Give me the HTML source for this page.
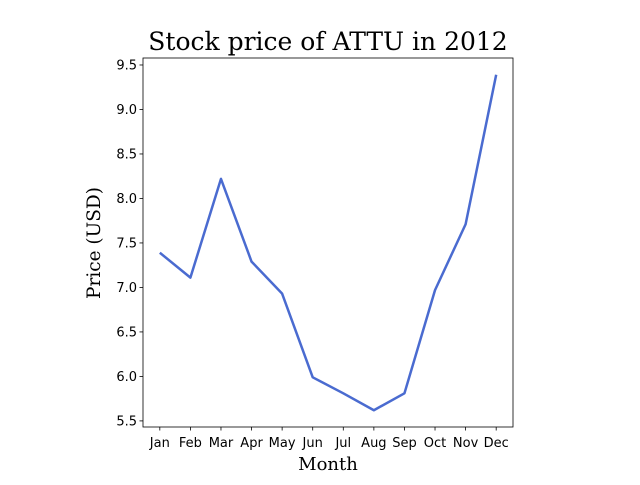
<!DOCTYPE html>
<html><head><meta charset="utf-8"><style>
body{margin:0;background:#fff;width:640px;height:480px;overflow:hidden}
svg text{font-family:"DejaVu Sans","Liberation Sans",sans-serif}
</style></head><body>
<svg id="c" width="640" height="480" xmlns="http://www.w3.org/2000/svg">
<text x="328" y="50" text-anchor="middle" font-size="25" style="font-family:'DejaVu Serif','Liberation Serif',serif">Stock price of ATTU in 2012</text>
<text x="328" y="470" text-anchor="middle" font-size="18" style="font-family:'DejaVu Serif','Liberation Serif',serif">Month</text>
<text transform="translate(100,243) rotate(-90)" text-anchor="middle" font-size="18.5" style="font-family:'DejaVu Serif','Liberation Serif',serif">Price (USD)</text>
<g id="ax"></g>
</svg>
<script>
const months=["Jan","Feb","Mar","Apr","May","Jun","Jul","Aug","Sep","Oct","Nov","Dec"];
const prices=[7.39,7.11,8.22,7.29,6.93,5.99,5.81,5.62,5.81,6.97,7.71,9.39];
const yTicks=[5.5,6.0,6.5,7.0,7.5,8.0,8.5,9.0,9.5];
const L=143,R=513,T=58,B=427;
const n=months.length;
const xMin=-0.55,xMax=n-1+0.55;
const dmin=Math.min(...prices),dmax=Math.max(...prices),m=(dmax-dmin)*0.05;
const yMin=dmin-m,yMax=dmax+m;
const X=i=>L+(i-xMin)/(xMax-xMin)*(R-L);
const Y=v=>B-(v-yMin)/(yMax-yMin)*(B-T);
const ns="http://www.w3.org/2000/svg",g=document.getElementById("ax");
function mk(t,a){const e=document.createElementNS(ns,t);for(const k in a)e.setAttribute(k,a[k]);g.appendChild(e);return e;}
const frame=mk("rect",{x:L,y:T,width:R-L,height:B-T,fill:"none",stroke:"#000","stroke-width":0.8});


yTicks.forEach(v=>{
 const tk=mk("line",{x1:L-3.5,x2:L,y1:Y(v),y2:Y(v),stroke:"#000","stroke-width":0.8});
 
 
 const t=mk("text",{x:L-6,y:Y(v)+4.5,"text-anchor":"end","font-size":13});
 t.textContent=v.toFixed(1);
 
 
});
months.forEach((mo,i)=>{
 const tk=mk("line",{x1:X(i),x2:X(i),y1:B,y2:B+3.5,stroke:"#000","stroke-width":0.8});
 
 
 const t=mk("text",{x:X(i),y:B+20,"text-anchor":"middle","font-size":13});
 t.textContent=mo;
 
 
});
const line=mk("polyline",{points:prices.map((p,i)=>X(i)+","+Y(p)).join(" "),fill:"none",stroke:"#4a6bd0","stroke-width":2.5,"stroke-linejoin":"round"});


</script>
</body></html>
